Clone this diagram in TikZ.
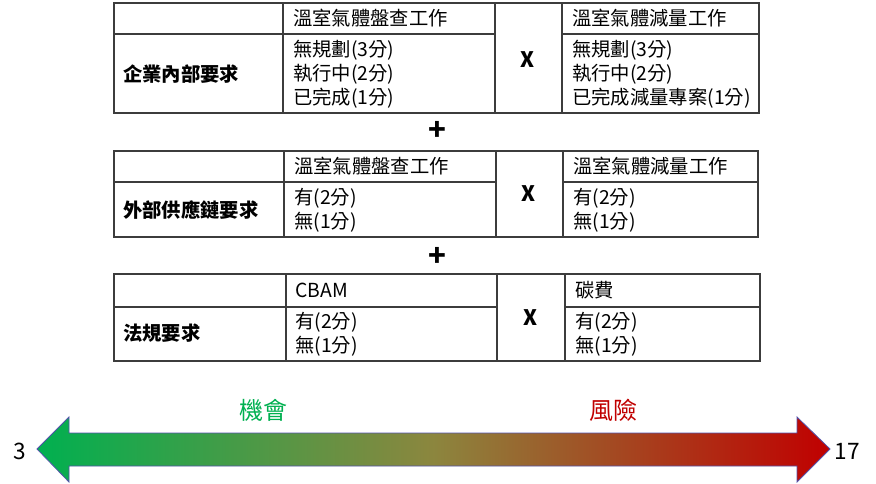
\documentclass[tikz,border=0pt]{standalone}
\usepackage{fontspec}
\setmainfont{Noto Sans CJK TC}
\definecolor{chancegreen}{RGB}{0,176,80}
\definecolor{riskred}{RGB}{192,0,0}
\definecolor{midolive}{RGB}{140,134,62}
\definecolor{gridgray}{RGB}{60,60,60}
\begin{document}
\begin{tikzpicture}[x=0.75pt,y=-0.75pt,
        cell/.style={anchor=west,inner sep=0pt,align=left,font=\fontsize{14.5}{18}\selectfont},
        rowlabel/.style={anchor=west,inner sep=0pt,font=\fontsize{14.5}{18}\selectfont\bfseries},
        times/.style={inner sep=0pt,font=\fontsize{16}{18}\selectfont\bfseries},
        grid/.style={draw=gridgray,line width=0.8pt}]
        \useasboundingbox (0,0) rectangle (876,483);

        % table 1
        \draw[grid] (114,3) rectangle (759,113);
        \draw[grid] (114,34) -- (495,34);
        \draw[grid] (562,34) -- (759,34);
        \draw[grid] (283,3) -- (283,113);
        \draw[grid] (495,3) -- (495,113);
        \draw[grid] (562,3) -- (562,113);
        \node[rowlabel] (inner) at (123,74) {企業內部要求};
        \node[cell] (innerA) at (293,18) {溫室氣體盤查工作};
        \node[cell] (innerAval) at (293,74) {無規劃(3分)\\執行中(2分)\\已完成(1分)};
        \node[times] (innerX) at (528,60) {X};
        \node[cell] (innerB) at (572,18) {溫室氣體減量工作};
        \node[cell] (innerBval) at (572,74) {無規劃(3分)\\執行中(2分)\\已完成減量專案(1分)};

        \node[times,font=\fontsize{22}{22}\selectfont\bfseries] (plusA) at (437,131) {+};

        % table 2
        \draw[grid] (114,151) rectangle (758,237);
        \draw[grid] (114,182) -- (496,182);
        \draw[grid] (563,182) -- (758,182);
        \draw[grid] (284,151) -- (284,237);
        \draw[grid] (496,151) -- (496,237);
        \draw[grid] (563,151) -- (563,237);
        \node[rowlabel] (supply) at (123,210) {外部供應鏈要求};
        \node[cell] (supplyA) at (294,166) {溫室氣體盤查工作};
        \node[cell] (supplyAval) at (294,210) {有(2分)\\無(1分)};
        \node[times] (supplyX) at (529,194) {X};
        \node[cell] (supplyB) at (573,166) {溫室氣體減量工作};
        \node[cell] (supplyBval) at (573,210) {有(2分)\\無(1分)};

        \node[times,font=\fontsize{22}{22}\selectfont\bfseries] (plusB) at (437,257) {+};

        % table 3
        \draw[grid] (114,274) rectangle (760,361);
        \draw[grid] (114,307) -- (497,307);
        \draw[grid] (565,307) -- (760,307);
        \draw[grid] (286,274) -- (286,361);
        \draw[grid] (497,274) -- (497,361);
        \draw[grid] (565,274) -- (565,361);
        \node[rowlabel] (law) at (123,333) {法規要求};
        \node[cell] (lawA) at (295,290) {CBAM};
        \node[cell] (lawAval) at (295,334) {有(2分)\\無(1分)};
        \node[times] (lawX) at (531,318) {X};
        \node[cell] (lawB) at (575,290) {碳費};
        \node[cell] (lawBval) at (575,334) {有(2分)\\無(1分)};

        % scale arrow
        \shadedraw[draw=blue!35!gray,line width=0.6pt,left color=chancegreen,right color=riskred,middle color=midolive]
            (37,449) -- (69,417) -- (69,433) -- (797,433) -- (797,417) -- (830,449)
            -- (797,482) -- (797,466) -- (69,466) -- (69,482) -- cycle;
        \node[font=\fontsize{17}{18}\selectfont] (low) at (20,451) {3};
        \node[font=\fontsize{17}{18}\selectfont] (high) at (847,451) {17};
        \node[font=\fontsize{18}{20}\selectfont,text=chancegreen] (chance) at (263,410) {機會};
        \node[font=\fontsize{18}{20}\selectfont,text=riskred] (risk) at (613,410) {風險};
    \end{tikzpicture}
\end{document}
